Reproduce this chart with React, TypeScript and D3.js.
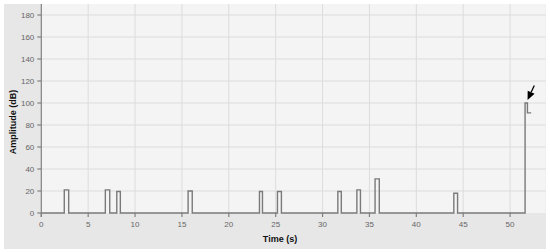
import React from "react";
import * as d3 from "d3";

const pulseStarts = [2.45, 6.83, 8.05, 15.66, 23.27, 25.19, 31.63, 33.66, 35.6, 44.0];
const pulseEnds = [2.92, 7.3, 8.43, 16.1, 23.59, 25.61, 32.0, 34.04, 36.05, 44.4];
const pulseValues = [21, 21, 19.5, 20, 19.5, 19.5, 19.5, 21, 31, 18];
const finalTimes = [51.6, 51.85, 52.25];
const finalValues = [100, 91];
const xTicks = [0, 5, 10, 15, 20, 25, 30, 35, 40, 45, 50];
const yTicks = [0, 20, 40, 60, 80, 100, 120, 140, 160, 180];

export default function App() {
  const W = 550, H = 252;
  const x = d3.scaleLinear().domain([0, 53.8]).range([41.3, 545.7]);
  const y = d3.scaleLinear().domain([0, 190]).range([213, 4]);

  const pts: [number, number][] = [[0, 0]];
  pulseStarts.forEach((s, i) => {
    pts.push([s, 0], [s, pulseValues[i]], [pulseEnds[i], pulseValues[i]], [pulseEnds[i], 0]);
  });
  pts.push([finalTimes[0], 0], [finalTimes[0], finalValues[0]], [finalTimes[1], finalValues[0]], [finalTimes[1], finalValues[1]], [finalTimes[2], finalValues[1]]);
  const line = d3.line<[number, number]>().x(d => x(d[0])).y(d => y(d[1]));

  // arrow pointing at the final peak
  const tipX = x(finalTimes[0]) + 2.5, tipY = y(finalValues[0]) - 3;
  const ux = 0.42, uy = -0.91;
  const len = 16, headL = 8.5, headW = 3.8;
  const tailX = tipX + ux * len, tailY = tipY + uy * len;
  const bx = tipX + ux * headL, by = tipY + uy * headL;
  const px = -uy, py = ux;
  const font = "'Liberation Sans', Arial, sans-serif";

  return (
    <svg width={W} height={H} style={{ position: "absolute", left: 0, top: 0 }} fontFamily={font}>
      <rect x={0} y={0} width={W} height={H} fill="#ffffff" />
      <rect x={4} y={4} width={542} height={245} fill="#e7e7e7" />
      <rect x={x(0)} y={y(190)} width={x(53.8) - x(0)} height={y(0) - y(190)} fill="#f4f4f4" />
      {yTicks.filter(t => t > 0).map(t => (
        <line key={"gy" + t} x1={x(0)} x2={x(53.8)} y1={y(t)} y2={y(t)} stroke="#dcdcdc" strokeWidth={1} />
      ))}
      {xTicks.filter(t => t > 0).map(t => (
        <line key={"gx" + t} x1={x(t)} x2={x(t)} y1={y(190)} y2={y(0)} stroke="#dcdcdc" strokeWidth={1} />
      ))}
      <line x1={x(0)} x2={x(0)} y1={y(190)} y2={y(0) + 4} stroke="#808080" strokeWidth={1.2} />
      {yTicks.map(t => (
        <g key={"ty" + t}>
          <line x1={x(0) - 4} x2={x(0)} y1={y(t)} y2={y(t)} stroke="#808080" strokeWidth={1.2} />
          <text x={x(0) - 7} y={y(t) + 2.8} fontSize={8} fill="#666" textAnchor="end">{t}</text>
        </g>
      ))}
      {xTicks.map(t => (
        <g key={"tx" + t}>
          <line x1={x(t)} x2={x(t)} y1={y(0)} y2={y(0) + 4} stroke="#808080" strokeWidth={1.2} />
          <text x={x(t)} y={y(0) + 13.5} fontSize={8} fill="#666" textAnchor="middle">{t}</text>
        </g>
      ))}
      <path d={line(pts) || ""} fill="none" stroke="#7a7a7a" strokeWidth={1.4} />
      <line x1={tailX} y1={tailY} x2={bx} y2={by} stroke="#000" strokeWidth={1.3} />
      <path d={`M${tipX},${tipY} L${bx + px * headW},${by + py * headW} L${bx - px * headW},${by - py * headW} Z`} fill="#000" />
      <text x={280} y={242} fontSize={9} fontWeight="bold" fill="#111" textAnchor="middle">Time (s)</text>
      <text transform={`translate(16,122) rotate(-90)`} fontSize={9} fontWeight="bold" fill="#111" textAnchor="middle">Amplitude (dB)</text>
    </svg>
  );
}
